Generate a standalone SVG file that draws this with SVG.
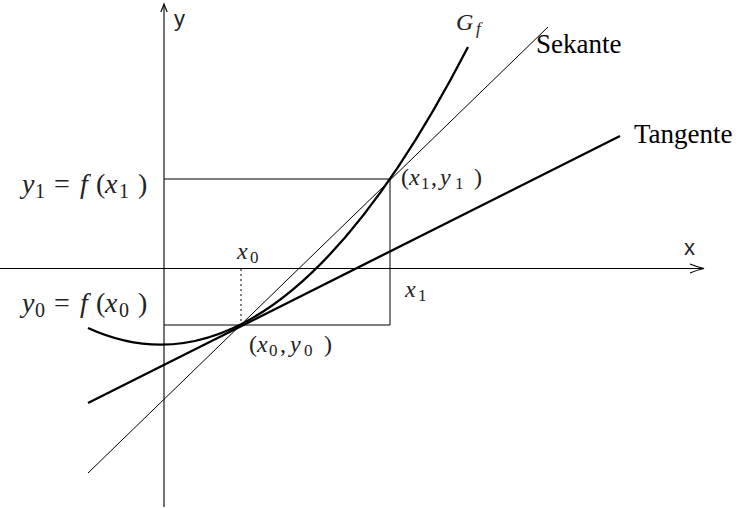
<svg xmlns="http://www.w3.org/2000/svg" width="741" height="508" viewBox="0 0 741 508">
<style>
.ax{stroke:#000;stroke-width:1.1;fill:none}
.thin{stroke:#000;stroke-width:1;fill:none}
.thick{stroke:#000;stroke-width:2.3;fill:none}
.sans{font-family:"Liberation Sans","DejaVu Sans",sans-serif;font-size:22px;fill:#222}
.m{font-family:"Liberation Serif","DejaVu Serif",serif;font-size:24px;fill:#222}
.big{font-size:28px}
.s{font-size:17px}
.bs{font-size:20px}
.i{font-style:italic}
.rm{font-family:"Liberation Serif",serif;font-size:27px;fill:#000}
</style>
<rect width="741" height="508" fill="#fff"/>
<g id="axes">
<line class="ax" x1="164" y1="507" x2="164" y2="5"/>
<path class="ax" d="M160.8 12 Q162.8 7.5 164 4 Q165.2 7.5 167.2 12"/>
<line class="ax" x1="0" y1="268.5" x2="702" y2="268.5"/>
<path class="ax" d="M690 264 Q697 267 704 268.5 Q697 270 690 273"/>
<text class="sans" x="174" y="26">y</text>
<text class="sans" x="684" y="255">x</text>
</g>
<g id="guides">
<polyline class="thin" points="164,179 390,179 390,325 164,325"/>
<line class="thin" x1="241" y1="269" x2="241" y2="325" stroke-dasharray="2,3"/>
</g>
<g id="secant">
<line class="thin" x1="88" y1="473" x2="548" y2="27"/>
</g>
<g id="tangent">
<line class="thick" x1="88" y1="403" x2="620" y2="136"/>
</g>
<g id="curve">
<path class="thick" d="M88 328 Q278 415 468 47"/>
</g>
<g id="labels">
<text class="m big" y="193"><tspan class="i" x="22">y</tspan><tspan class="bs" x="35" dy="5">1</tspan><tspan x="54" dy="-5">=</tspan><tspan class="i" x="80">f</tspan><tspan x="96">(</tspan><tspan class="i" x="105">x</tspan><tspan class="bs" x="119" dy="5">1</tspan><tspan x="138" dy="-5">)</tspan></text>
<text class="m big" y="312"><tspan class="i" x="22">y</tspan><tspan class="bs" x="35" dy="5">0</tspan><tspan x="54" dy="-5">=</tspan><tspan class="i" x="80">f</tspan><tspan x="96">(</tspan><tspan class="i" x="105">x</tspan><tspan class="bs" x="119" dy="5">0</tspan><tspan x="138" dy="-5">)</tspan></text>
<text class="m" y="259"><tspan class="i" x="237">x</tspan><tspan class="s" x="250" dy="4">0</tspan></text>
<text class="m" y="297"><tspan class="i" x="405">x</tspan><tspan class="s" x="418" dy="4">1</tspan></text>
<text class="m" y="352"><tspan x="249">(</tspan><tspan class="i" x="257">x</tspan><tspan class="s" x="269" dy="4">0</tspan><tspan x="280" dy="-4">,</tspan><tspan class="i" x="290">y</tspan><tspan class="s" x="304" dy="4">0</tspan><tspan x="324" dy="-4">)</tspan></text>
<text class="m" y="185"><tspan x="401">(</tspan><tspan class="i" x="409">x</tspan><tspan class="s" x="421" dy="4">1</tspan><tspan x="431" dy="-4">,</tspan><tspan class="i" x="440">y</tspan><tspan class="s" x="455" dy="4">1</tspan><tspan x="474" dy="-4">)</tspan></text>
<text class="m" y="30"><tspan class="i" x="456">G</tspan><tspan class="i s" x="476" dy="4">f</tspan></text>
<text class="rm" x="536" y="53" font-size="28">Sekante</text>
<text class="rm" x="634" y="143">Tangente</text>
</g>
</svg>
